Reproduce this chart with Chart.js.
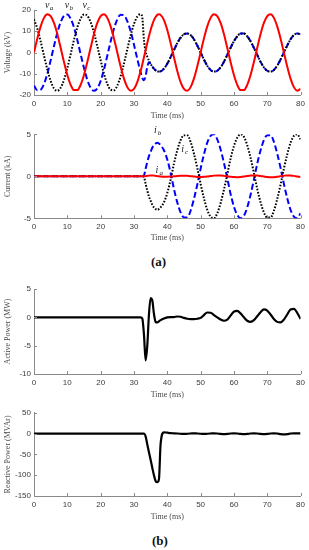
<!DOCTYPE html>
<html>
<head>
<meta charset="utf-8">
<script src="https://cdn.jsdelivr.net/npm/chart.js@4.4.1/dist/chart.umd.min.js"></script>
<style>
  body { margin: 0; background: #fff; }
  #page { position: relative; width: 309px; height: 550px; overflow: hidden; }
  canvas { position: absolute; left: 0; }
  .cap { position: absolute; font: bold 13px "Liberation Serif", "Times New Roman", serif; color: #111; }
</style>
</head>
<body>
<div id="page">
  <canvas id="voltageChart" width="309" height="122" style="top:0px"></canvas>
  <canvas id="currentChart" width="309" height="122" style="top:122px"></canvas>
  <canvas id="activeChart" width="309" height="129" style="top:272px"></canvas>
  <canvas id="reactiveChart" width="309" height="122" style="top:401px"></canvas>
  <div class="cap" style="left:151px; top:254px">(a)</div>
  <div class="cap" style="left:152px; top:533px">(b)</div>
</div>
<script>
// time axis (ms): 1 ms steps, 0.5 ms around the fault
let timeMs = [0,1,2,3,4,5,6,7,8,9,10,11,12,13,14,15,16,17,18,19,20,21,22,23,24,25,26,27,28,29,30,31,32,
    32.5,33,33.5,34,34.5,35,35.5,36,36.5,37,37.5,
    38,39,40,41,42,43,44,45,46,47,48,49,50,51,52,53,54,55,56,57,58,59,60,61,62,63,64,65,66,67,68,69,
    70,71,72,73,74,75,76,77,78,79,80];
let xTicks = [0, 10, 20, 30, 40, 50, 60, 70, 80];

// voltages (kV)
let va = [0,6.6,12.3,16.3,18.0,17.1,13.9,8.7,2.2,-4.5,-10.6,-15.2,-17.7,-17.7,-15.2,-10.6,-4.5,2.2,8.7,13.9,17.1,18.0,16.3,12.3,6.6,0,-6.6,-12.3,-16.3,-18.0,-17.1,-13.9,-8.7,
    -5.6,-2.2,1.1,4.5,7.7,10.6,13.1,15.2,16.7,17.7,18.0,
    17.7,15.2,10.6,4.5,-2.2,-8.7,-13.9,-17.1,-18.0,-16.3,-12.3,-6.6,
    0,6.6,12.3,16.3,18.0,17.1,13.9,8.7,2.2,-4.5,
    -10.6,-15.2,-17.7,-17.7,-15.2,-10.6,-4.5,2.2,8.7,13.9,
    17.1,18.0,16.3,12.3,6.6,0,-6.6,-12.3,-16.3,-18.0,-17.1];
let vb = [-15.6,-17.8,-17.5,-14.8,-10.0,-3.7,3.0,9.3,14.3,17.3,17.9,15.9,11.8,5.9,-0.8,-7.3,-12.9,-16.6,-18.0,-16.9,-13.4,-8.0,-1.5,5.2,11.2,15.6,17.8,17.5,14.8,10.0,3.7,-3.0,-9.3,
    -12.0,-13.0,-11.0,-6.8,-4.6,-5.3,-6.6,-7.6,-8.4,-8.9,-9.0,
    -8.9,-7.6,-5.3,-2.2,1.1,4.4,7.0,8.6,9.0,8.2,6.2,3.3,
    0,-3.3,-6.2,-8.2,-9.0,-8.6,-7.0,-4.4,-1.1,2.2,
    5.3,7.6,8.9,8.9,7.6,5.3,2.2,-1.1,-4.4,-7.0,
    -8.6,-9.0,-8.2,-6.2,-3.3,0,3.3,6.2,8.2,9.0,8.6];
let vc = [15.6,11.2,5.2,-1.5,-8.0,-13.4,-16.9,-18.0,-16.6,-12.9,-7.3,-0.8,5.9,11.8,15.9,17.9,17.3,14.3,9.3,3.0,-3.7,-10.0,-14.8,-17.5,-17.8,-15.6,-11.2,-5.2,1.5,8.0,13.4,16.9,18.0,
    16.5,6.0,0.5,-2.0,-3.8,-5.3,-6.6,-7.6,-8.4,-8.9,-9.0,
    -8.9,-7.6,-5.3,-2.2,1.1,4.4,7.0,8.6,9.0,8.2,6.2,3.3,
    0,-3.3,-6.2,-8.2,-9.0,-8.6,-7.0,-4.4,-1.1,2.2,
    5.3,7.6,8.9,8.9,7.6,5.3,2.2,-1.1,-4.4,-7.0,
    -8.6,-9.0,-8.2,-6.2,-3.3,0,3.3,6.2,8.2,9.0,8.6];

// currents (kA)
let ia = [0,0,0,0,0,0,0,0,0,0,0,0,0,0,0,0,0,0,0,0,0,0,0,0,0,0,0,0,0,0,0,0,0,
    0,0,0.02,0.05,0.08,0.1,0.1,0.08,0.05,0.02,0,
    -0.03,-0.05,-0.05,-0.03,0,0.04,0.07,0.08,0.06,0.02,-0.03,-0.07,
    -0.08,-0.06,-0.02,0.03,0.08,0.1,0.09,0.05,0,-0.05,
    -0.09,-0.1,-0.07,-0.02,0.04,0.09,0.11,0.09,0.04,-0.02,
    -0.08,-0.11,-0.1,-0.05,0.02,0.08,0.11,0.1,0.05,-0.02,-0.08];
let ib = [0,0,0,0,0,0,0,0,0,0,0,0,0,0,0,0,0,0,0,0,0,0,0,0,0,0,0,0,0,0,0,0,0,
    0,0.1,0.9,1.7,2.4,2.9,3.4,3.7,3.9,4.0,3.9,
    3.7,3.1,2.0,0.4,-1.5,-3.1,-4.3,-4.9,-4.9,-4.1,-2.7,-1.0,
    0.9,2.6,4.0,4.8,5.0,4.4,3.2,1.6,-0.2,-2.1,
    -3.6,-4.6,-5.0,-4.7,-3.7,-2.2,-0.4,1.5,3.1,4.3,
    4.9,4.9,4.1,2.7,1.0,-0.9,-2.6,-4.0,-4.8,-5.0,-4.4];
let ic = [0,0,0,0,0,0,0,0,0,0,0,0,0,0,0,0,0,0,0,0,0,0,0,0,0,0,0,0,0,0,0,0,0,
    0,-0.1,-0.9,-1.7,-2.4,-2.9,-3.4,-3.7,-3.9,-4.0,-3.9,
    -3.7,-3.1,-2.0,-0.4,1.5,3.1,4.3,4.9,4.9,4.1,2.7,1.0,
    -0.9,-2.6,-4.0,-4.8,-5.0,-4.4,-3.2,-1.6,0.2,2.1,
    3.6,4.6,5.0,4.7,3.7,2.2,0.4,-1.5,-3.1,-4.3,
    -4.9,-4.9,-4.1,-2.7,-1.0,0.9,2.6,4.0,4.8,5.0,4.4];

// active power (MW) and reactive power (MVAr)
let activePower = [0,0,0,0,0,0,0,0,0,0,0,0,0,0,0,0,0,0,0,0,0,0,0,0,0,0,0,0,0,0,0,0,0,
    -0.2,-3.0,-7.6,-5.0,0.5,3.4,3.0,0.6,-0.8,-0.9,-0.7,
    -0.5,-0.2,0,0.05,0.05,0.15,0.1,-0.1,-0.25,-0.3,-0.3,-0.25,
    -0.1,0.4,0.85,0.8,0.4,0.0,-0.4,-0.6,-0.4,0.3,
    1.0,1.15,0.7,0.0,-0.6,-0.8,-0.5,0.2,0.9,1.4,
    1.2,0.5,-0.3,-0.8,-0.9,-0.4,0.5,1.4,1.5,0.8,-0.3];
let reactivePower = [0,0,0,0,0,0,0,0,0,0,0,0,0,0,0,0,0,0,0,0,0,0,0,0,0,0,0,0,0,0,0,0,0,
    0,0,-7,-26,-45,-63,-82,-100,-114,-117,-110,
    -25,3,2,1,0.5,0,-0.5,-1,-0.5,0,0.5,0,
    -0.5,-1,-0.5,0,0.5,0,-1,-1.5,-1,0,
    0.5,0,-1,-1.5,-1,0,0.5,0,-1,-1.5,
    -1,0,0.5,0,-1.5,-2,-1.5,0,0.5,0.5,0.5];

let voltageTicks = [-20, -10, 0, 10, 20];
let currentTicks = [-5, 0, 5];
let activeTicks = [-10, -5, 0, 5];
let reactiveTicks = [-150, -100, -50, 0, 50];

let axisGray = '#8a8a8a';
let tickColor = '#3a3a3a';
let titleColor = '#4a4a4a';
let sansFont = "'Liberation Sans', Arial, sans-serif";
let serifFont = "'Liberation Serif', 'Times New Roman', serif";

// MATLAB style ticks pointing into the plot
const inwardTicks = {
    id: 'inwardTicks',
    afterDatasetsDraw(chart) {
        let ctx = chart.ctx;
        let area = chart.chartArea;
        let x = chart.scales.x, y = chart.scales.y;
        ctx.save();
        ctx.strokeStyle = axisGray;
        ctx.lineWidth = 1;
        ctx.beginPath();
        x.ticks.forEach(function(t) {
            let px = Math.round(x.getPixelForValue(t.value)) + 0.5;
            ctx.moveTo(px, area.bottom);
            ctx.lineTo(px, area.bottom - 3);
        });
        y.ticks.forEach(function(t) {
            let py = Math.round(y.getPixelForValue(t.value)) + 0.5;
            ctx.moveTo(area.left, py);
            ctx.lineTo(area.left + 3, py);
        });
        ctx.stroke();
        ctx.restore();
    }
};

function phaseLabels(items) {
    return {
        id: 'phaseLabels',
        afterDraw(chart) {
            let ctx = chart.ctx;
            let x = chart.scales.x, y = chart.scales.y;
            items.forEach(function(item) {
                let px = x.getPixelForValue(item.t);
                let py = y.getPixelForValue(item.v);
                ctx.save();
                ctx.fillStyle = '#222';
                ctx.textBaseline = 'middle';
                ctx.textAlign = 'center';
                ctx.font = 'italic 10px ' + serifFont;
                ctx.fillText(item.main, px, py);
                ctx.textAlign = 'left';
                ctx.font = 'italic 7px ' + serifFont;
                ctx.fillText(item.sub, px + 2.5, py + 3.5);
                ctx.restore();
            });
        }
    };
}

function line(values, color, dash, width) {
    return {
        data: timeMs.map(function(t, i) { return { x: t, y: values[i] }; }),
        borderColor: color,
        borderWidth: width || 2,
        borderDash: dash || [],
        pointRadius: 0,
        fill: false,
        cubicInterpolationMode: 'monotone'
    };
}

function makePanel(id, panel) {
    let ctx = document.getElementById(id).getContext('2d');
    return new Chart(ctx, {
        type: 'line',
        data: { datasets: panel.datasets },
        options: {
            responsive: false,
            animation: false,
            devicePixelRatio: 1,
            layout: { padding: { top: panel.padTop, right: 7, bottom: 0, left: 0 } },
            plugins: { legend: { display: false }, tooltip: { enabled: false } },
            scales: {
                x: {
                    type: 'linear', min: 0, max: 80,
                    afterFit: function(s) { s.height = panel.xHeight; },
                    afterBuildTicks: function(s) { s.ticks = xTicks.map(function(v) { return { value: v }; }); },
                    grid: { display: false, drawTicks: false },
                    border: { color: axisGray, width: 1 },
                    ticks: { padding: 4, color: tickColor, font: { family: sansFont, size: 8 }, maxRotation: 0 },
                    title: { display: true, text: 'Time (ms)', color: titleColor,
                             font: { family: serifFont, size: 8 }, padding: { top: 0, bottom: 1 } }
                },
                y: {
                    min: panel.yTicks[0], max: panel.yTicks[panel.yTicks.length - 1],
                    afterFit: function(s) { s.width = 34; },
                    afterBuildTicks: function(s) { s.ticks = panel.yTicks.map(function(v) { return { value: v }; }); },
                    grid: { display: false, drawTicks: false },
                    border: { color: axisGray, width: 1 },
                    ticks: { padding: 3, color: tickColor, font: { family: sansFont, size: 8 } },
                    title: { display: true, text: panel.yTitle, color: titleColor,
                             font: { family: serifFont, size: 8 }, padding: { top: 3, bottom: 0 } }
                }
            }
        },
        plugins: [inwardTicks, phaseLabels(panel.labels || [])]
    });
}

document.addEventListener('DOMContentLoaded', function() {
    makePanel('voltageChart', {
        padTop: 10, xHeight: 27, yTicks: voltageTicks, yTitle: 'Voltage (kV)',
        datasets: [line(va, '#ff0000'), line(vc, '#000000', [1.6, 1.6]), line(vb, '#0000ff', [6, 3])],
        labels: [
            { main: 'v', sub: 'a', t: 4.0, v: 22.4 },
            { main: 'v', sub: 'b', t: 9.9, v: 22.4 },
            { main: 'v', sub: 'c', t: 15.2, v: 22.4 }
        ]
    });
    makePanel('currentChart', {
        padTop: 12.3, xHeight: 25.7, yTicks: currentTicks, yTitle: 'Current (kA)',
        datasets: [line(ia, '#ff0000'), line(ic, '#000000', [1.6, 1.6]), line(ib, '#0000ff', [6, 3])],
        labels: [
            { main: 'i', sub: 'b', t: 36.4, v: 5.5 },
            { main: 'i', sub: 'c', t: 44.6, v: 3.25 },
            { main: 'i', sub: 'a', t: 36.9, v: 0.75 }
        ]
    });
    makePanel('activeChart', {
        padTop: 17, xHeight: 27, yTicks: activeTicks, yTitle: 'Active Power (MW)',
        datasets: [line(activePower, '#000000', null, 2.2)]
    });
    makePanel('reactiveChart', {
        padTop: 11.7, xHeight: 27, yTicks: reactiveTicks, yTitle: 'Reactive Power (MVAr)',
        datasets: [line(reactivePower, '#000000', null, 2.2)]
    });
});
</script>
</body>
</html>
